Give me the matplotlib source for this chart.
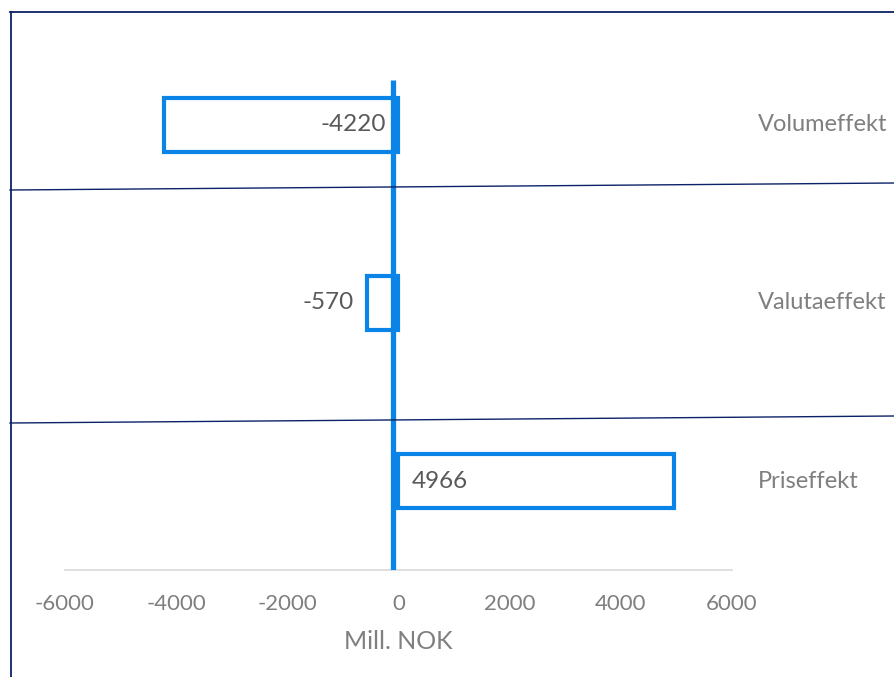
import numpy as np
import matplotlib.pyplot as plt
from matplotlib.lines import Line2D

categories = ["Priseffekt", "Valutaeffekt", "Volumeffekt"]
values = [4966, -570, -4220]
label_mode = ["base", "outside", "base"]
xticks = [-6000, -4000, -2000, 0, 2000, 4000, 6000]

blue = "#0a84e6"
navy = "#0b2266"
grey = "#7f7f7f"
dark = "#595959"
plt.rcParams["font.family"] = ["Lato", "DejaVu Sans"]

fig = plt.figure(figsize=(8.94, 6.77), dpi=100)
ax = fig.add_axes([0.0727, 0.158, 0.746, 0.789])

y = np.arange(len(categories))
ax.barh(y, values, height=0.30, color="white", edgecolor=blue, linewidth=3.0, zorder=2)

# thick line near zero
ax.plot([-105, -105], [-0.51, 2.25], color=blue, lw=3.8, solid_capstyle="butt", zorder=3)

for yi, v, mode in zip(y, values, label_mode):
    if mode == "base":
        xp = 230 if v > 0 else -230
        ha = "left" if v > 0 else "right"
    else:
        xp = v - 240
        ha = "right"
    ax.text(xp, yi, str(v), ha=ha, va="center", fontsize=17.5, color=dark, zorder=4)

for yi, c in zip(y, categories):
    ax.text(6460, yi, c, ha="left", va="center", fontsize=17, color=grey, clip_on=False)

ax.set_xlim(-6000, 6000)
ax.set_ylim(-0.5, 2.5)
ax.set_xticks(xticks)
ax.set_xticklabels([str(t) for t in xticks])
ax.set_yticks([])
ax.tick_params(axis="x", length=0, labelsize=16, labelcolor=grey, pad=17)
for s in ["top", "right", "left"]:
    ax.spines[s].set_visible(False)
ax.spines["bottom"].set_color("#d9d9d9")
ax.spines["bottom"].set_linewidth(1.2)
ax.set_xlabel("Mill. NOK", fontsize=18, color=grey, labelpad=12)

W, H = 894, 677
def fx(px): return px / W
def fy(py): return 1 - py / H

# frame and separators
fig.add_artist(Line2D([fx(10.5), fx(10.5)], [fy(12), fy(677)], color=navy, lw=1.3))
fig.add_artist(Line2D([fx(10), fx(894)], [fy(12), fy(12)], color=navy, lw=1.3))
fig.add_artist(Line2D([fx(10), fx(894)], [fy(190), fy(183)], color=navy, lw=1.0))
fig.add_artist(Line2D([fx(10), fx(894)], [fy(423), fy(416)], color=navy, lw=1.0))

fig.savefig("out.png", dpi=100)
